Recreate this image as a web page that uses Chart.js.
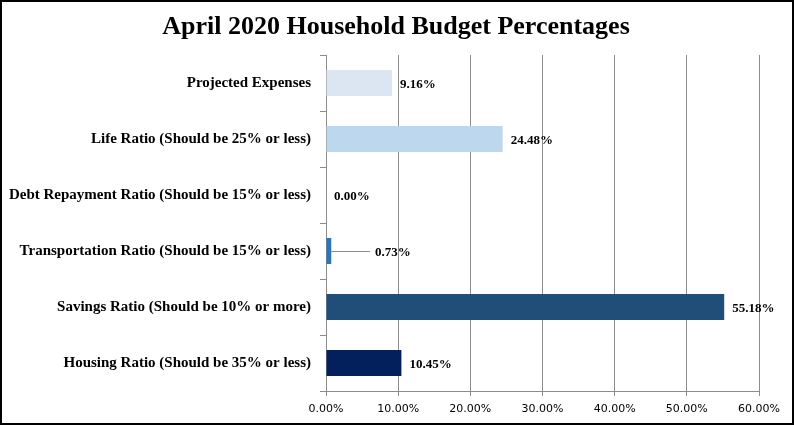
<!DOCTYPE html>
<html>
<head>
<meta charset="utf-8">
<script src="https://cdn.jsdelivr.net/npm/chart.js@4/dist/chart.umd.min.js"></script>
<style>
html,body{margin:0;padding:0;background:#fff;}
canvas{display:block;}
</style>
</head>
<body>
<canvas id="c" width="794" height="425"></canvas>
<script>
const titleText = 'April 2020 Household Budget Percentages';
const categories = [
  'Projected Expenses',
  'Life Ratio (Should be 25% or less)',
  'Debt Repayment Ratio (Should be 15% or less)',
  'Transportation Ratio (Should be 15% or less)',
  'Savings Ratio (Should be 10% or more)',
  'Housing Ratio (Should be 35% or less)'
];
const values = [9.16, 24.48, 0.00, 0.73, 55.18, 10.45];
const barColors = ['#dce6f2', '#bdd7ee', '#9dc3e6', '#2e75b6', '#214e79', '#03205c'];
const xTicks = [0, 10, 20, 30, 40, 50, 60];

const serif = '"Liberation Serif", "DejaVu Serif", serif';

const bgBorder = {
  id: 'bgBorder',
  beforeDraw(chart) {
    const ctx = chart.ctx;
    ctx.save();
    ctx.fillStyle = '#fff';
    ctx.fillRect(0, 0, chart.width, chart.height);
    ctx.restore();
  },
  afterDraw(chart) {
    const ctx = chart.ctx;
    ctx.save();
    ctx.fillStyle = '#000';
    ctx.font = 'bold 26px ' + serif;
    ctx.textAlign = 'center';
    ctx.textBaseline = 'middle';
    ctx.fillText(titleText, 396, 27);
    ctx.strokeStyle = '#000';
    ctx.lineWidth = 2;
    ctx.strokeRect(1, 1, chart.width - 2, chart.height - 2);
    ctx.restore();
  }
};

const valueLabels = {
  id: 'valueLabels',
  afterDatasetsDraw(chart) {
    const ctx = chart.ctx;
    const meta = chart.getDatasetMeta(0);
    const xs = chart.scales.x;
    ctx.save();
    ctx.font = 'bold 13px ' + serif;
    ctx.fillStyle = '#000';
    ctx.textBaseline = 'middle';
    ctx.textAlign = 'left';
    meta.data.forEach((bar, i) => {
      const txt = values[i].toFixed(2) + '%';
      const y = bar.y + 2;
      if (i === 3) {
        const lx = xs.getPixelForValue(6.8);
        ctx.strokeStyle = '#8c8c8c';
        ctx.lineWidth = 1;
        ctx.beginPath();
        ctx.moveTo(bar.x, Math.round(bar.y) + 0.5);
        ctx.lineTo(lx - 5, Math.round(bar.y) + 0.5);
        ctx.stroke();
        ctx.fillText(txt, lx, y);
      } else {
        ctx.fillText(txt, bar.x + 8, y);
      }
    });
    ctx.restore();
  }
};

new Chart(document.getElementById('c'), {
  type: 'bar',
  data: {
    labels: categories,
    datasets: [{
      data: values,
      backgroundColor: barColors,
      borderWidth: 0,
      categoryPercentage: 0.93,
      barPercentage: 0.5
    }]
  },
  options: {
    indexAxis: 'y',
    responsive: false,
    animation: false,
    devicePixelRatio: 1,
    layout: { padding: { left: 0, right: 35, top: 55, bottom: 0 } },
    plugins: {
      legend: { display: false },
      tooltip: { enabled: false },
      title: { display: false }
    },
    scales: {
      x: {
        min: 0,
        max: 60,
        afterBuildTicks(scale) { scale.ticks = xTicks.map(v => ({ value: v })); },
        afterFit(scale) { scale.height = 34; },
        ticks: {
          callback: v => Number(v).toFixed(2) + '%',
          color: '#000',
          font: { family: '"DejaVu Sans", sans-serif', size: 11 },
          padding: 7,
          maxRotation: 0
        },
        grid: {
          color: '#8c8c8c',
          lineWidth: 1,
          drawTicks: true,
          tickLength: 5
        },
        border: { display: true, color: '#8c8c8c', width: 1 }
      },
      y: {
        afterFit(scale) { scale.width = 326; },
        ticks: {
          color: '#000',
          font: { family: serif, size: 15, weight: 'bold' },
          padding: 9
        },
        grid: {
          offset: true,
          drawOnChartArea: false,
          drawTicks: true,
          tickLength: 6,
          color: '#8c8c8c'
        },
        border: { display: true, color: '#8c8c8c', width: 1 }
      }
    }
  },
  plugins: [bgBorder, valueLabels]
});
</script>
</body>
</html>
